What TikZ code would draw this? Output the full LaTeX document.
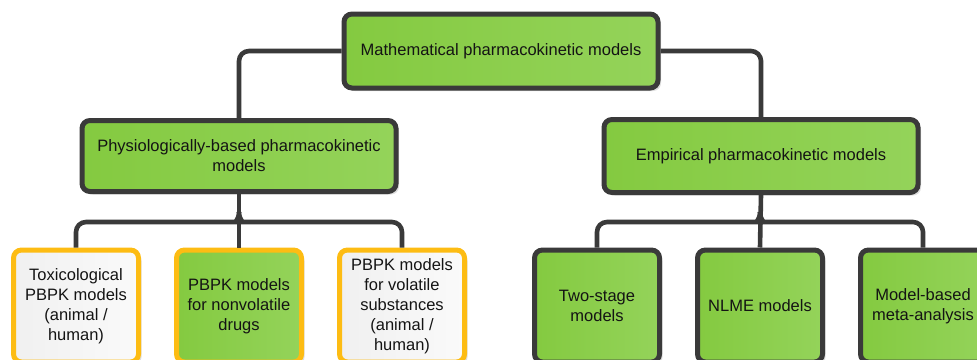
\documentclass[tikz,border=0pt]{standalone}
\usepackage{fontspec}
\setmainfont{Liberation Sans}
\usetikzlibrary{shadows}
\definecolor{gA}{HTML}{84CA40}
\definecolor{gB}{HTML}{94D35A}
\definecolor{wA}{HTML}{F0F0F0}
\definecolor{wB}{HTML}{FAFAFA}
\definecolor{edge}{HTML}{3A3A3A}
\definecolor{orng}{HTML}{FDBC13}
\definecolor{txt}{HTML}{141414}
\tikzset{
  box/.style={rectangle, rounded corners=8pt, line width=5pt, draw=edge,
    left color=gA, right color=gB, text=txt, align=center,
    font=\fontsize{16.5}{20}\selectfont, inner sep=0pt,
    drop shadow={shadow xshift=3pt, shadow yshift=-3pt, fill=black!13, opacity=1}},
  bigbox/.style={box, minimum width=314pt},
  smallbox/.style={box, minimum width=125pt, minimum height=112pt},
  orangebox/.style={draw=orng},
  whitebox/.style={left color=wA, right color=wB},
  conn/.style={line width=4.6pt, draw=edge, rounded corners=10pt}
}
\begin{document}
\begin{tikzpicture}[x=1pt,y=-1pt]
\useasboundingbox (0,0) rectangle (977,359);
\clip (0,0) rectangle (977,359);
\coordinate (jl) at (239,212);
\coordinate (jr) at (760,212);
% main nodes
\node[bigbox, minimum height=74pt] (top) at (501,51) {Mathematical pharmacokinetic models};
\node[bigbox, minimum height=71pt] (pbpk) at (239,156) {Physiologically-based pharmacokinetic\\models};
\node[bigbox, minimum height=73pt] (emp) at (761,156) {Empirical pharmacokinetic models};
% bottom nodes
\node[smallbox, orangebox, whitebox] (tox) at (76,306) {Toxicological\\PBPK models\\(animal /\\human)};
\node[smallbox, orangebox] (nonvol) at (239,306) {PBPK models\\for nonvolatile\\drugs};
\node[smallbox, orangebox, whitebox] (vol) at (402,306) {PBPK models\\for volatile\\substances\\(animal /\\human)};
\node[smallbox] (two) at (597,306) {Two-stage\\models};
\node[smallbox] (nlme) at (760,306) {NLME models};
\node[smallbox] (mba) at (923,306) {Model-based\\meta-analysis};
% connectors
\draw[conn] (top.west) -| (pbpk.north);
\draw[conn] (top.east) -| (emp.north);
\draw[conn] (pbpk.south) -- (nonvol.north);
\draw[conn] (jl) .. controls (239,220) and (234,222) .. (226,222) -| (tox.north);
\draw[conn] (jl) .. controls (239,220) and (244,222) .. (252,222) -| (vol.north);
\draw[conn] (emp.south) -- (nlme.north);
\draw[conn] (jr) .. controls (760,220) and (755,222) .. (747,222) -| (two.north);
\draw[conn] (jr) .. controls (760,220) and (765,222) .. (773,222) -| (mba.north);
\end{tikzpicture}
\end{document}
